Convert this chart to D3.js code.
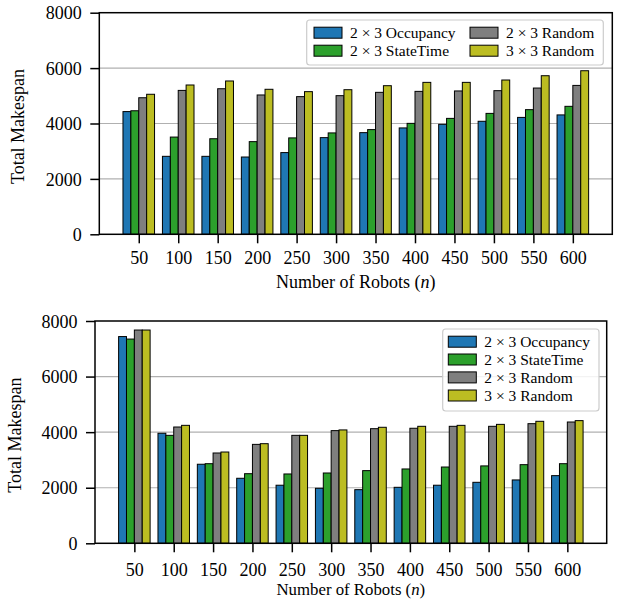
<!DOCTYPE html>
<html>
<head>
<meta charset="utf-8">
<script src="https://cdn.jsdelivr.net/npm/d3@7"></script>
<style>
  html, body { margin: 0; padding: 0; background: #fff; }
  svg { display: block; }
  text { font-family: "Liberation Serif", "Times New Roman", serif; fill: #000; }
</style>
</head>
<body>
<svg id="chart" width="624" height="599"></svg>
<script>
// Robot counts on the x axis
const robots = [50, 100, 150, 200, 250, 300, 350, 400, 450, 500, 550, 600];

// Series names and colours (matplotlib tab10 subset)
const seriesNames = ["2 × 3 Occupancy", "2 × 3 StateTime", "2 × 3 Random", "3 × 3 Random"];
const seriesColors = ["#1f77b4", "#2ca02c", "#7f7f7f", "#bcbd22"];

// Upper panel: total makespan per series
const topOccupancy = [4430, 2815, 2815, 2790, 2950, 3490, 3670, 3840, 3970, 4080, 4220, 4310];
const topStateTime = [4460, 3510, 3450, 3345, 3480, 3660, 3780, 4005, 4185, 4365, 4500, 4620];
const topRandom23  = [4930, 5195, 5255, 5030, 4970, 5005, 5125, 5160, 5175, 5185, 5280, 5375];
const topRandom33  = [5055, 5390, 5535, 5235, 5150, 5220, 5365, 5485, 5485, 5570, 5725, 5905];

// Lower panel: total makespan per series
const botOccupancy = [7440, 3960, 2845, 2340, 2090, 1980, 1930, 2015, 2090, 2195, 2280, 2435];
const botStateTime = [7350, 3885, 2865, 2505, 2495, 2530, 2615, 2675, 2745, 2785, 2830, 2865];
const botRandom23  = [7675, 4185, 3250, 3560, 3885, 4055, 4125, 4140, 4210, 4210, 4305, 4365];
const botRandom33  = [7675, 4245, 3285, 3585, 3885, 4080, 4175, 4210, 4245, 4280, 4390, 4415];

const yTicks = [0, 2000, 4000, 6000, 8000];

const FONT = 18;
const LEGEND_FONT = 15.5;

const svg = d3.select("#chart");

function drawPanel(cfg) {
  const { left, right, top, bottom, series, tickBaseline, titleBaseline, titleFont, yLabelX, legend } = cfg;
  const g = svg.append("g");

  const x = d3.scaleLinear().domain([0, robots.length + 1]).range([left, right]);
  const y = d3.scaleLinear().domain([0, 8000]).range([bottom, top]);
  const barW = 0.2;

  // horizontal grid
  g.append("g").selectAll("line")
    .data(yTicks.filter(t => t > 0 && t < 8000))
    .join("line")
    .attr("x1", left).attr("x2", right)
    .attr("y1", d => y(d)).attr("y2", d => y(d))
    .attr("stroke", "#b0b0b0").attr("stroke-width", 1.2);

  // bars
  series.forEach((vals, k) => {
    g.append("g").selectAll("rect")
      .data(vals)
      .join("rect")
      .attr("x", (d, i) => x(i + 1 + (k - 2) * barW))
      .attr("width", (d, i) => x(i + 1 + (k - 1) * barW) - x(i + 1 + (k - 2) * barW))
      .attr("y", d => y(d))
      .attr("height", d => y(0) - y(d))
      .attr("fill", seriesColors[k])
      .attr("stroke", "#000")
      .attr("stroke-width", 1);
  });

  // y axis
  const yAxis = d3.axisLeft(y).tickValues(yTicks).tickSize(9).tickPadding(8).tickFormat(d3.format("d"));
  const ya = g.append("g").attr("transform", `translate(${left},0)`).call(yAxis);
  ya.select(".domain").remove();
  ya.selectAll(".tick line").attr("stroke", "#000").attr("stroke-width", 1.5);
  ya.selectAll(".tick text").attr("font-size", FONT)
    .attr("x", -17.5).attr("dy", "0.34em");

  // x axis
  const xAxis = d3.axisBottom(x).tickValues(robots.map((d, i) => i + 1))
    .tickFormat((d) => robots[d - 1]).tickSize(9).tickPadding(8);
  const xa = g.append("g").attr("transform", `translate(0,${bottom})`).call(xAxis);
  xa.select(".domain").remove();
  xa.selectAll(".tick line").attr("stroke", "#000").attr("stroke-width", 1.5);
  xa.selectAll(".tick text").attr("font-size", FONT)
    .attr("y", tickBaseline - bottom).attr("dy", 0);

  // frame
  g.append("rect")
    .attr("x", left).attr("y", top)
    .attr("width", right - left).attr("height", bottom - top)
    .attr("fill", "none").attr("stroke", "#000").attr("stroke-width", 1.5);

  // axis titles
  const xt = g.append("text")
    .attr("x", (left + right) / 2).attr("y", titleBaseline)
    .attr("text-anchor", "middle").attr("font-size", titleFont);
  xt.append("tspan").text("Number of Robots (");
  xt.append("tspan").attr("font-style", "italic").text("n");
  xt.append("tspan").text(")");

  g.append("text")
    .attr("transform", `translate(${yLabelX},${(top + bottom) / 2 + 3}) rotate(-90)`)
    .attr("text-anchor", "middle").attr("font-size", FONT)
    .text("Total Makespan");

  // legend
  const lg = g.append("g");
  lg.append("rect")
    .attr("x", legend.x).attr("y", legend.y)
    .attr("width", legend.w).attr("height", legend.h)
    .attr("rx", 3).attr("fill", "#fff").attr("fill-opacity", 0.85)
    .attr("stroke", "#cccccc").attr("stroke-width", 1.2);
  legend.items.forEach((it, k) => {
    lg.append("rect")
      .attr("x", it.x).attr("y", it.y - 5.5)
      .attr("width", 28).attr("height", 11)
      .attr("fill", seriesColors[k]).attr("stroke", "#000").attr("stroke-width", 1);
    lg.append("text")
      .attr("x", it.x + 36).attr("y", it.y).attr("dy", "0.34em")
      .attr("font-size", LEGEND_FONT)
      .text(seriesNames[k]);
  });
}

drawPanel({
  left: 99.3, right: 612.3, top: 12.7, bottom: 234.3,
  series: [topOccupancy, topStateTime, topRandom23, topRandom33],
  tickBaseline: 264.5, titleBaseline: 288, titleFont: FONT, yLabelX: 24,
  legend: {
    x: 306.7, y: 20, w: 296.6, h: 45,
    items: [
      { x: 314, y: 32.7 }, { x: 314, y: 50.7 },
      { x: 470, y: 32.7 }, { x: 470, y: 50.7 }
    ]
  }
});

drawPanel({
  left: 95, right: 606.7, top: 321, bottom: 543.3,
  series: [botOccupancy, botStateTime, botRandom23, botRandom33],
  tickBaseline: 575.8, titleBaseline: 594.8, titleFont: 16.8, yLabelX: 21,
  legend: {
    x: 442.7, y: 329, w: 156.3, h: 82,
    items: [
      { x: 448.3, y: 341.7 }, { x: 448.3, y: 359.5 },
      { x: 448.3, y: 377.4 }, { x: 448.3, y: 395.5 }
    ]
  }
});
</script>
</body>
</html>
